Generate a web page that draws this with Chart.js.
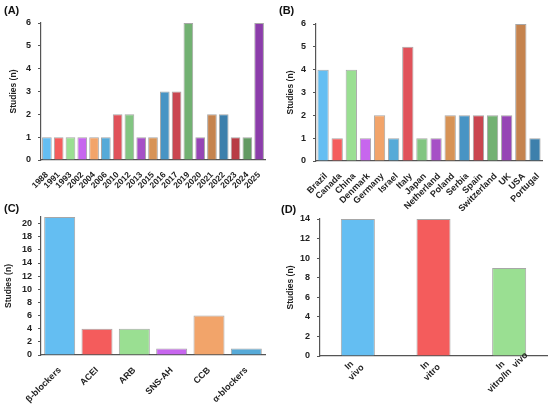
<!DOCTYPE html>
<html>
<head>
<meta charset="utf-8">
<script src="https://cdn.jsdelivr.net/npm/chart.js@4.4.1/dist/chart.umd.min.js"></script>
<style>
  body { margin: 0; background: #fff; }
  #wrap { position: relative; width: 550px; height: 407px; overflow: hidden; }
  canvas { position: absolute; }
  .tag { position: absolute; font: bold 11px "Liberation Sans", Arial, sans-serif; color: #111; }
</style>
</head>
<body>
<div id="wrap">
  <canvas id="chartA" style="left:0;top:0"></canvas>
  <canvas id="chartC" style="left:0;top:200px"></canvas>
  <canvas id="chartD" style="left:275px;top:200px"></canvas>
  <canvas id="chartB" style="left:275px;top:0"></canvas>
  <div class="tag" style="left:4px;top:4px">(A)</div>
  <div class="tag" style="left:279px;top:4px">(B)</div>
  <div class="tag" style="left:4px;top:202px">(C)</div>
  <div class="tag" style="left:281px;top:203px">(D)</div>
</div>
<script>
var years = ['1988', '1991', '1993', '2002', '2004', '2006', '2010', '2012', '2013', '2015',
             '2016', '2017', '2019', '2020', '2021', '2022', '2023', '2024', '2025'];
var yearCounts = [1, 1, 1, 1, 1, 1, 2, 2, 1, 1, 3, 3, 6, 1, 2, 2, 1, 1, 6];
var yearTicks = [0, 1, 2, 3, 4, 5, 6];

var countries = ['Brazil', 'Canada', 'China', 'Denmark', 'Germany', 'Israel', 'Italy', 'Japan',
                 'Netherland', 'Poland', 'Serbia', 'Spain', 'Switzerland', 'UK', 'USA', 'Portugal'];
var countryCounts = [4, 1, 4, 1, 2, 1, 5, 1, 1, 2, 2, 2, 2, 2, 6, 1];
var countryTicks = [0, 1, 2, 3, 4, 5, 6];

var drugClasses = ['β-blockers', 'ACEI', 'ARB', 'SNS-AH', 'CCB', 'α-blockers'];
var drugCounts = [21, 4, 4, 1, 6, 1];
var drugTicks = [0, 2, 4, 6, 8, 10, 12, 14, 16, 18, 20];

var studyTypes = [['In', 'vivo'], ['In', 'vitro'], ['In', 'vitro/In  vivo']];
var studyCounts = [14, 14, 9];
var studyTicks = [0, 2, 4, 6, 8, 10, 12, 14];

var palette = ['#64BEF2', '#F45C5C', '#9ADF92', '#C766EE', '#F2A46A', '#56AAD8', '#E0525A',
               '#82C582', '#A650C6', '#D79356', '#4894C4', '#CA4650', '#72B172', '#9645B5',
               '#C5834E', '#3D80AC', '#B83C45', '#629A62', '#8B3DAA'];

var axisColor = '#555555';
var fontFamily = '"Liberation Sans", Arial, sans-serif';

function sizeCanvas(id, w, h) {
    var c = document.getElementById(id);
    c.width = w; c.height = h;
    c.style.width = w + 'px'; c.style.height = h + 'px';
    return c.getContext('2d');
}

// centred, rotated category labels (used for panel D, like the original)
var centredLabels = {
    id: 'centredLabels',
    afterDraw: function (chart) {
        if (!chart.options.plugins.centredLabels.on) return;
        var s = chart.scales.x, ctx = chart.ctx;
        ctx.save();
        ctx.font = 'bold 9px ' + fontFamily;
        ctx.fillStyle = '#222';
        ctx.textAlign = 'center';
        ctx.textBaseline = 'middle';
        s.ticks.forEach(function (t, i) {
            var lines = [].concat(chart.data.labels[i]);
            var x = s.getPixelForTick(i) - 5, y = s.top + 13;
            ctx.save();
            ctx.translate(x, y);
            ctx.rotate(-Math.PI / 4);
            lines.forEach(function (ln, k) {
                ctx.fillText(ln, 0, (k - (lines.length - 1) / 2) * 10);
            });
            ctx.restore();
        });
        ctx.restore();
    }
};

function makeBar(id, w, h, labels, values, tickValues, o) {
    var ctx = sizeCanvas(id, w, h);
    return new Chart(ctx, {
        type: 'bar',
        data: {
            labels: labels,
            datasets: [{
                label: 'Studies',
                data: values,
                backgroundColor: palette.slice(0, values.length),
                borderColor: 'rgba(60, 60, 60, 0.45)',
                borderWidth: 1,
                barPercentage: o.bar,
                categoryPercentage: 1
            }]
        },
        plugins: [centredLabels],
        options: {
            responsive: false,
            animation: false,
            devicePixelRatio: 1,
            layout: { padding: { left: 0, top: o.top, right: o.right, bottom: 0 } },
            plugins: {
                legend: { display: false },
                tooltip: { enabled: false },
                centredLabels: { on: !!o.centred }
            },
            scales: {
                x: {
                    grid: { display: false },
                    border: { display: true, color: axisColor, width: 1.2 },
                    ticks: {
                        display: !o.centred,
                        color: '#222', autoSkip: false, minRotation: 45, maxRotation: 45,
                        padding: 2, labelOffset: o.xShift || 0,
                        font: { size: o.xFont, weight: 'bold', family: fontFamily }
                    },
                    afterFit: function (s) { s.height = o.xh; }
                },
                y: {
                    min: 0, max: o.max,
                    grid: { drawOnChartArea: false, color: axisColor, tickLength: 3 },
                    border: { display: true, color: axisColor, width: 1.2 },
                    ticks: {
                        color: '#222', padding: o.tickPad,
                        font: { size: 9, weight: 'bold', family: fontFamily }
                    },
                    afterBuildTicks: function (s) {
                        s.ticks = tickValues.map(function (v) { return { value: v }; });
                    },
                    title: {
                        display: true, text: 'Studies (n)', color: '#222',
                        padding: { top: o.titlePad, bottom: 0 },
                        font: { size: 8.5, weight: 'bold', family: fontFamily }
                    },
                    afterFit: function (s) { s.width = o.yw; }
                }
            }
        }
    });
}

makeBar('chartA', 275, 200, years, yearCounts, yearTicks,
    { bar: 0.82, top: 23, right: 10, xh: 40, yw: 41, max: 6, xFont: 8.5, tickPad: 7, titlePad: 9 });
makeBar('chartB', 275, 215, countries, countryCounts, countryTicks,
    { bar: 0.8, top: 24, right: 8, xh: 54, yw: 41, max: 6, xFont: 9, xShift: 3, tickPad: 7, titlePad: 11 });
makeBar('chartC', 275, 207, drugClasses, drugCounts, drugTicks,
    { bar: 0.83, top: 17, right: 10, xh: 52, yw: 41, max: 21, xFont: 9, tickPad: 6, titlePad: 4 });
makeBar('chartD', 275, 207, studyTypes, studyCounts, studyTicks,
    { bar: 0.45, top: 19, right: 3, xh: 51, yw: 45, max: 14, centred: true, tickPad: 7, titlePad: 11 });
</script>
</body>
</html>
